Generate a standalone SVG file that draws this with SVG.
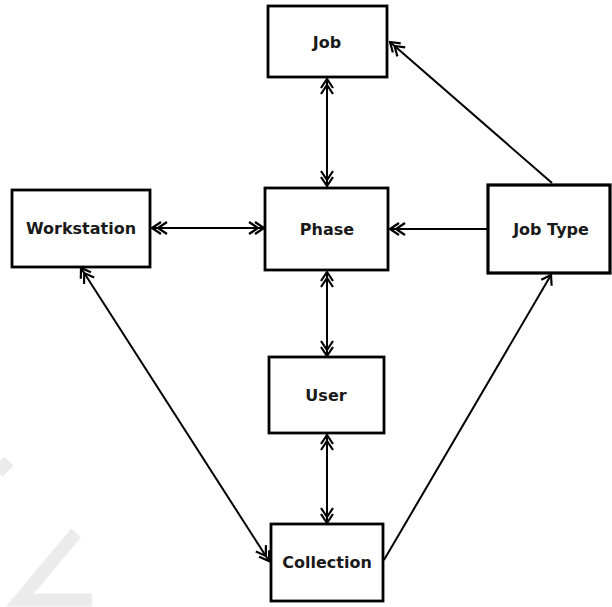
<svg xmlns="http://www.w3.org/2000/svg" width="612" height="607" viewBox="0 0 612 607">
<defs>
<style>
.box{fill:#fff;stroke:#000;stroke-width:2.8}
.lbl{font-family:"DejaVu Sans",sans-serif;font-size:16px;font-weight:bold;fill:#1a1a1a;text-anchor:middle;dominant-baseline:central}
.con{stroke:#000;stroke-width:2;fill:none}
.wm{stroke:#ebebeb;stroke-width:13;fill:none}
</style>
<marker id="dbl" viewBox="-18 -8 20 16" refX="0" refY="0" markerWidth="20" markerHeight="16" markerUnits="userSpaceOnUse" orient="auto-start-reverse">
<path d="M-9,-6 L0,0 L-9,6 M-15,-6 L-6,0 L-15,6" stroke="#000" stroke-width="2.2" fill="none"/>
</marker>
<marker id="sgl" viewBox="-12 -8 14 16" refX="0" refY="0" markerWidth="14" markerHeight="16" markerUnits="userSpaceOnUse" orient="auto-start-reverse">
<path d="M-9,-6 L0,0 L-9,6" stroke="#000" stroke-width="2.2" fill="none"/>
</marker>
</defs>
<rect width="612" height="607" fill="#fff"/>
<path class="wm" d="M76,533 L20,600 L92,600"/>
<path class="wm" d="M-2,472 L9,461"/>
<g id="connectors">
<line class="con" x1="327" y1="79" x2="327" y2="186" marker-start="url(#dbl)" marker-end="url(#dbl)"/>
<line class="con" x1="327" y1="272" x2="327" y2="356" marker-start="url(#dbl)" marker-end="url(#dbl)"/>
<line class="con" x1="327" y1="435" x2="327" y2="523" marker-start="url(#dbl)" marker-end="url(#dbl)"/>
<line class="con" x1="152" y1="228" x2="264" y2="228" marker-start="url(#dbl)" marker-end="url(#dbl)"/>
<line class="con" x1="487" y1="229" x2="390" y2="229" marker-end="url(#dbl)"/>
<line class="con" x1="552" y1="183" x2="390" y2="42" marker-end="url(#dbl)"/>
<line class="con" x1="81" y1="268" x2="269" y2="561" marker-start="url(#dbl)" marker-end="url(#dbl)"/>
<line class="con" x1="384" y1="560" x2="551" y2="275" marker-end="url(#sgl)"/>
</g>
<g id="job"><rect class="box" x="268" y="6" width="119" height="71"/><text class="lbl" x="327" y="42">Job</text></g>
<g id="workstation"><rect class="box" x="12" y="190" width="138" height="77"/><text class="lbl" x="81" y="228">Workstation</text></g>
<g id="phase"><rect class="box" x="265" y="188" width="123" height="82"/><text class="lbl" x="327" y="229">Phase</text></g>
<g id="jobtype"><rect class="box" x="488" y="185" width="122" height="88" style="stroke-width:3.2"/><text class="lbl" x="551" y="229">Job Type</text></g>
<g id="user"><rect class="box" x="269" y="357" width="115" height="76"/><text class="lbl" x="326" y="395">User</text></g>
<g id="collection"><rect class="box" x="271" y="524" width="112" height="77"/><text class="lbl" x="327" y="562">Collection</text></g>
</svg>
